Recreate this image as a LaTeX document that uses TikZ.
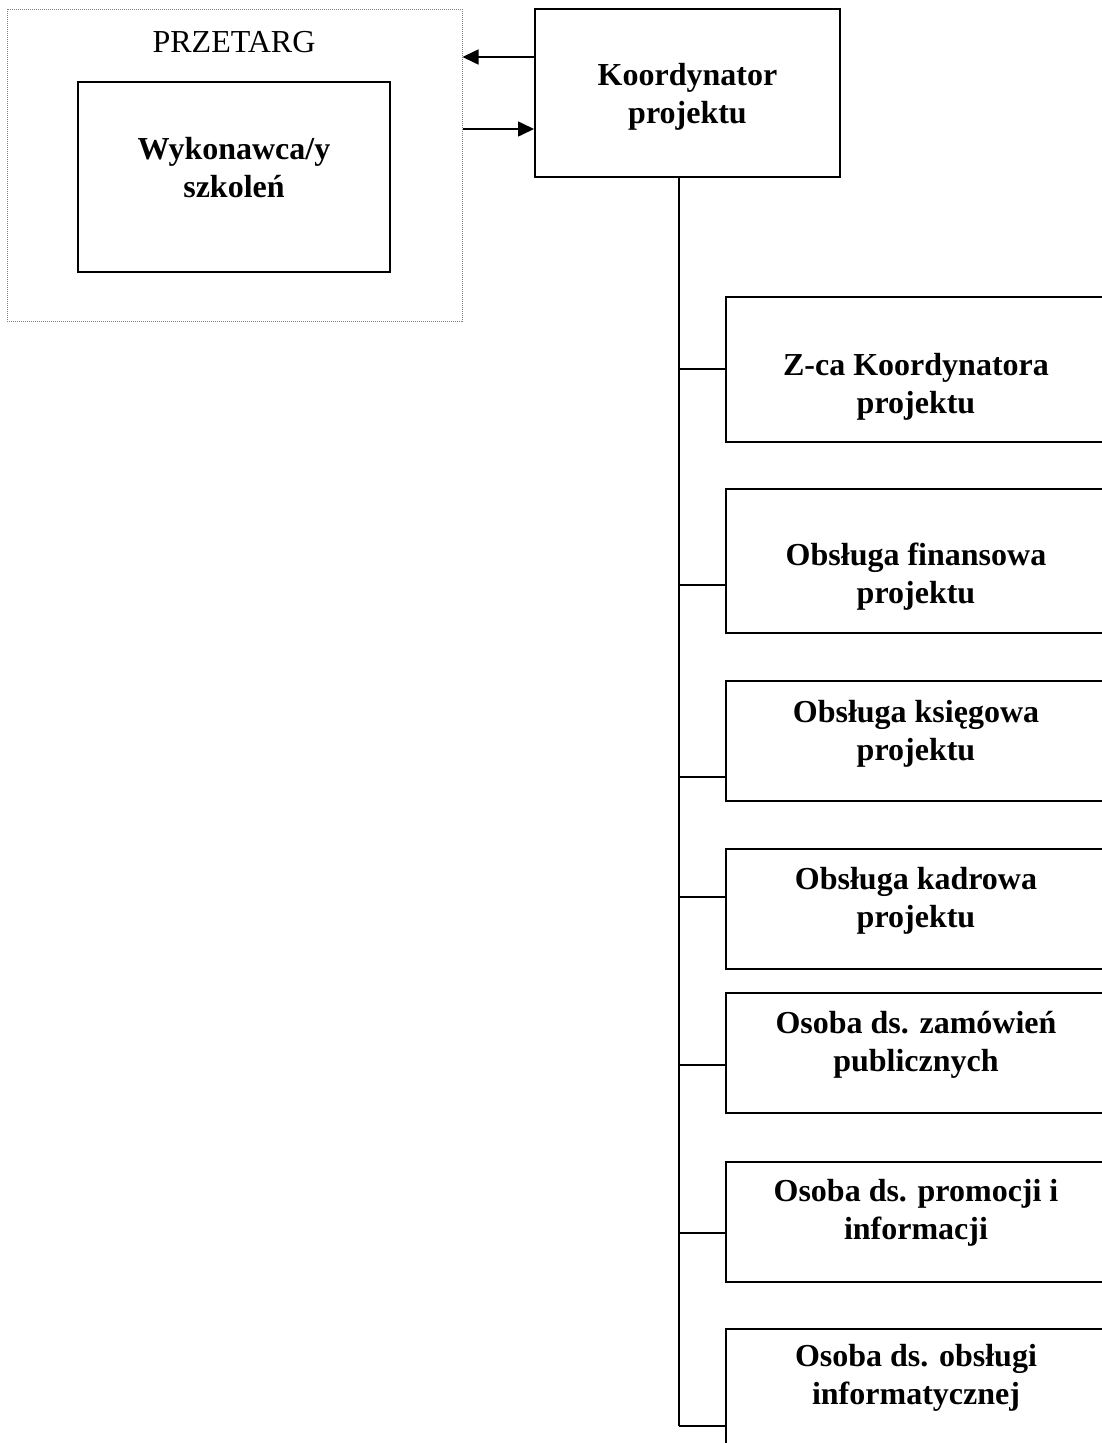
\documentclass[tikz,border=0pt]{standalone}
\usepackage{fontspec}
\setmainfont{Liberation Serif}
\usetikzlibrary{arrows.meta}

\begin{document}
\begin{tikzpicture}[x=1pt,y=-1pt,
    box/.style={draw,line width=2pt,inner sep=0pt},
    txt/.style={align=center,font=\fontsize{32}{38}\selectfont\bfseries},
    wire/.style={line width=1.6pt},
    arr/.style={wire,-{Triangle[length=16pt,width=15pt]}}]
        % Page
        \clip (0,0) rectangle (1102,1443);
        \fill[white] (0,0) rectangle (1102,1443);

        % Tender group
        \node[draw=gray,densely dotted,line width=1pt,inner sep=0pt,
              minimum width=455pt,minimum height=312pt] (tender) at (234.5,165) {};
        \node[font=\fontsize{32}{38}\selectfont] (tenderlbl) at (234,42) {PRZETARG};
        \node[box,minimum width=312pt,minimum height=190pt] (contractor) at (234,177) {};
        \node[txt] (contractorlbl) at (234,168) {Wykonawca/y\\szkoleń};

        % Coordinator
        \node[box,minimum width=305pt,minimum height=168pt] (coord) at (687.5,93) {};
        \node[txt] (coordlbl) at (687.5,97) {Koordynator\\projektu};

        % Arrows between coordinator and tender
        \coordinate (outTop) at ([yshift=36pt]coord.west);
        \coordinate (inBot) at ([yshift=-36pt]coord.west);
        \draw[arr] (outTop) -- (outTop -| tender.east);
        \draw[arr] (inBot -| tender.east) -- (inBot);

        % Trunk
        \coordinate (trunkTop) at (679,177);
        \coordinate (trunkEnd) at (679,1426);
        \draw[wire] (trunkTop) -- (trunkEnd);

        % Staff boxes
        \foreach \name/\top/\bot/\conn/\mid/\lbl in {
            deputy/297/442/369/387/{Z-ca Koordynatora\\projektu},
            finance/489/633/585/577/{Obsługa finansowa\\projektu},
            account/681/801/777/734/{Obsługa księgowa\\projektu},
            hr/849/969/897/901/{Obsługa kadrowa\\projektu},
            procure/993/1113/1065/1045/{Osoba ds. zamówień\\publicznych},
            promo/1162/1282/1233/1213/{Osoba ds. promocji i\\informacji},
            it/1329/1480/1426/1378/{Osoba ds. obsługi\\informatycznej}}{
            \node[box,minimum width=380pt,minimum height={(\bot-\top)*1pt}] (\name) at (916,{(\top+\bot)/2}) {};
            \node[txt] (\name lbl) at (916,\mid) {\lbl};
            \draw[wire] (trunkTop |- 0,\conn) -- (\name.west |- 0,\conn);
        }
\end{tikzpicture}
\end{document}
